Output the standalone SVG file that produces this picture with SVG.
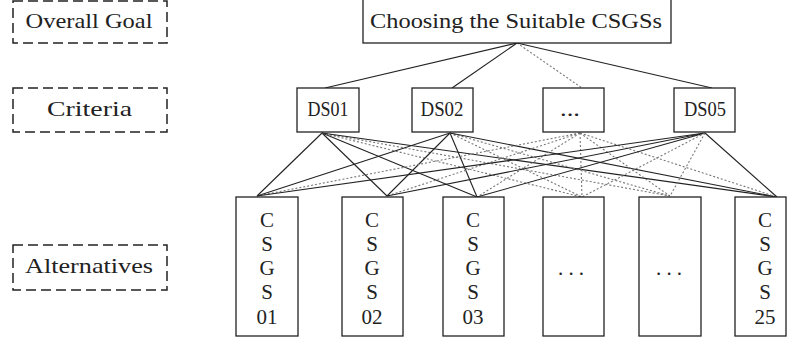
<svg xmlns="http://www.w3.org/2000/svg" width="787" height="342" viewBox="0 0 787 342">
<style>
.box{fill:#fff;stroke:#222;stroke-width:1.3}
.dash{fill:none;stroke:#222;stroke-width:1.5;stroke-dasharray:10 5}
.t{font-family:"Liberation Serif","DejaVu Serif",serif;font-size:21px;fill:#222;text-anchor:middle}
.s{stroke:#222;stroke-width:1.1;fill:none}
.d{stroke:#777;stroke-width:1.1;stroke-dasharray:2 2;fill:none}
</style>
<rect width="787" height="342" fill="#fff"/>
<g id="connectors">
<line class="s" x1="517" y1="43" x2="325" y2="88"/>
<line class="s" x1="517" y1="43" x2="452" y2="88"/>
<line class="d" x1="517" y1="43" x2="582" y2="88"/>
<line class="s" x1="517" y1="43" x2="712" y2="88"/>
<line class="s" x1="322" y1="133" x2="257" y2="196"/>
<line class="s" x1="322" y1="133" x2="387" y2="196"/>
<line class="s" x1="322" y1="133" x2="477" y2="197"/>
<line class="d" x1="322" y1="133" x2="582" y2="197"/>
<line class="d" x1="322" y1="133" x2="670" y2="196"/>
<line class="s" x1="322" y1="133" x2="777" y2="197"/>
<line class="s" x1="450" y1="133" x2="257" y2="196"/>
<line class="s" x1="450" y1="133" x2="387" y2="196"/>
<line class="s" x1="450" y1="133" x2="477" y2="197"/>
<line class="d" x1="450" y1="133" x2="582" y2="197"/>
<line class="d" x1="450" y1="133" x2="670" y2="196"/>
<line class="s" x1="450" y1="133" x2="777" y2="197"/>
<line class="d" x1="580" y1="133" x2="257" y2="196"/>
<line class="d" x1="580" y1="133" x2="387" y2="196"/>
<line class="d" x1="580" y1="133" x2="477" y2="197"/>
<line class="d" x1="580" y1="133" x2="582" y2="197"/>
<line class="d" x1="580" y1="133" x2="670" y2="196"/>
<line class="d" x1="580" y1="133" x2="777" y2="197"/>
<line class="s" x1="705" y1="133" x2="257" y2="196"/>
<line class="s" x1="705" y1="133" x2="387" y2="196"/>
<line class="s" x1="705" y1="133" x2="477" y2="197"/>
<line class="d" x1="705" y1="133" x2="582" y2="197"/>
<line class="d" x1="705" y1="133" x2="670" y2="196"/>
<line class="s" x1="705" y1="133" x2="777" y2="197"/>
</g>
<g id="label-goal"><rect class="dash" x="13" y="1" width="154" height="42"/><text class="t" x="89" y="28" textLength="127" lengthAdjust="spacingAndGlyphs">Overall Goal</text></g>
<g id="label-criteria"><rect class="dash" x="13" y="88" width="154" height="44"/><text class="t" x="89.5" y="116" textLength="85" lengthAdjust="spacingAndGlyphs">Criteria</text></g>
<g id="label-alternatives"><rect class="dash" x="13" y="245" width="154" height="45"/><text class="t" x="89" y="273" textLength="128" lengthAdjust="spacingAndGlyphs">Alternatives</text></g>
<g id="goal"><rect class="box" x="363" y="-1" width="308" height="44"/><text class="t" x="516" y="28" textLength="292" lengthAdjust="spacingAndGlyphs">Choosing the Suitable CSGSs</text></g>
<g id="ds01"><rect class="box" x="297" y="88" width="62" height="44"/><text class="t" x="328" y="116" textLength="41" lengthAdjust="spacingAndGlyphs">DS01</text></g>
<g id="ds02"><rect class="box" x="412" y="88" width="61" height="44"/><text class="t" x="442" y="116" textLength="43" lengthAdjust="spacingAndGlyphs">DS02</text></g>
<g id="dsdots"><rect class="box" x="543" y="88" width="61" height="44"/><text class="t" x="570" y="116" textLength="20" lengthAdjust="spacingAndGlyphs">...</text></g>
<g id="ds05"><rect class="box" x="674" y="88" width="61" height="44"/><text class="t" x="705" y="116" textLength="42" lengthAdjust="spacingAndGlyphs">DS05</text></g>
<g id="alt01"><rect class="box" x="236" y="197" width="62" height="139"/><text class="t" x="267" y="227">C</text><text class="t" x="267" y="251">S</text><text class="t" x="267" y="275">G</text><text class="t" x="267" y="299">S</text><text class="t" x="267" y="324">01</text></g>
<g id="alt02"><rect class="box" x="342" y="197" width="61" height="139"/><text class="t" x="372" y="227">C</text><text class="t" x="372" y="251">S</text><text class="t" x="372" y="275">G</text><text class="t" x="372" y="299">S</text><text class="t" x="372" y="324">02</text></g>
<g id="alt03"><rect class="box" x="443" y="197" width="61" height="139"/><text class="t" x="473" y="227">C</text><text class="t" x="473" y="251">S</text><text class="t" x="473" y="275">G</text><text class="t" x="473" y="299">S</text><text class="t" x="473" y="324">03</text></g>
<g id="alt04"><rect class="box" x="543" y="197" width="61" height="139"/><text class="t" x="571" y="275" textLength="26" lengthAdjust="spacing">. . .</text></g>
<g id="alt05"><rect class="box" x="639" y="197" width="62" height="139"/><text class="t" x="669" y="275" textLength="26" lengthAdjust="spacing">. . .</text></g>
<g id="alt25"><rect class="box" x="735" y="197" width="51" height="139"/><text class="t" x="765" y="227">C</text><text class="t" x="765" y="251">S</text><text class="t" x="765" y="275">G</text><text class="t" x="765" y="299">S</text><text class="t" x="765" y="324">25</text></g>
</svg>
